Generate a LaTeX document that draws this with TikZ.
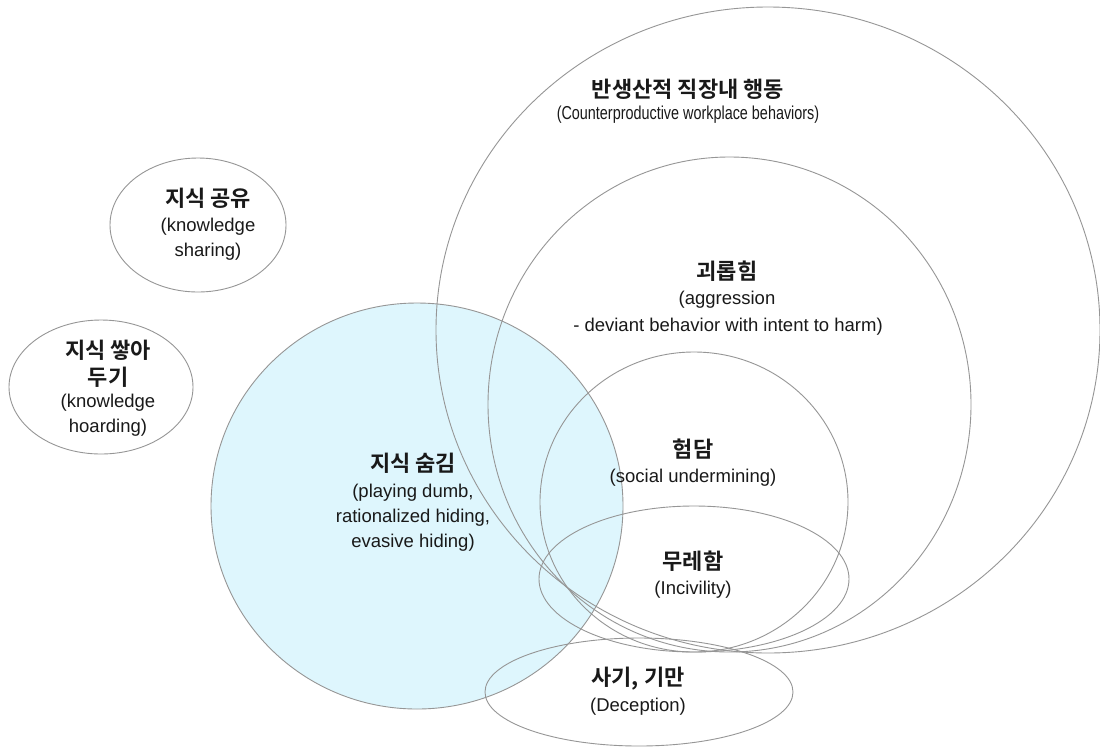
\documentclass[tikz,border=0pt]{standalone}
\usepackage{fontspec}
\setmainfont{Liberation Sans}
\newfontfamily\krfont{Noto Sans CJK KR}[BoldFont={Noto Sans CJK KR Bold}]
\newfontfamily\narrowfont{Liberation Sans}[FakeStretch=0.77]
\definecolor{linegray}{RGB}{150,150,150}
\definecolor{hidefill}{RGB}{222,246,253}
\definecolor{ink}{RGB}{25,25,25}
\tikzset{
  ring/.style={draw=linegray, line width=0.9pt},
  kr/.style={font=\krfont\bfseries\fontsize{22}{26}\selectfont, text=ink, inner sep=0pt},
  en/.style={font=\fontsize{18.5}{22}\selectfont, text=ink, inner sep=0pt},
  ennarrow/.style={font=\narrowfont\fontsize{18.7}{22}\selectfont, text=ink, inner sep=0pt}
}
\begin{document}
\begin{tikzpicture}[x=1pt, y=-1pt]
\useasboundingbox (0,0) rectangle (1100,748);
\clip (0,0) rectangle (1100,748);
\fill[white] (0,0) rectangle (1100,748);

% knowledge hiding area (filled first so the other outlines stay visible)
\fill[hidefill] (417,506) ellipse [x radius=206, y radius=203];

% outlines
\path[ring] (417,506) ellipse [x radius=206, y radius=203];
\path[ring] (768,330) ellipse [x radius=332, y radius=323];
\path[ring] (729.5,404.5) ellipse [x radius=241.5, y radius=247.5];
\path[ring] (694,502) ellipse [x radius=154, y radius=150];
\path[ring] (694,579) ellipse [x radius=155, y radius=73];
\path[ring] (639,692) ellipse [x radius=154, y radius=54];
\path[ring] (198,225) ellipse [x radius=88, y radius=67];
\path[ring] (101,387) ellipse [x radius=92, y radius=67];

% counterproductive workplace behaviours
\node[kr] (cwbK) at (688,89) {반생산적 직장내 행동};
\node[ennarrow] (cwbE) at (688,115) {(Counterproductive workplace behaviors)};

% aggression
\node[kr] (aggK) at (727,271) {괴롭힘};
\node[en] (aggE1) at (727,300) {(aggression};
\node[en] (aggE2) at (728,327) {- deviant behavior with intent to harm)};

% social undermining
\node[kr] (undK) at (693,449) {험담};
\node[en] (undE) at (693,478) {(social undermining)};

% incivility
\node[kr] (incK) at (693,561) {무레함};
\node[en] (incE) at (693,590) {(Incivility)};

% deception
\node[kr] (decK) at (638,679) {사기, 기만};
\node[en] (decE) at (638,707) {(Deception)};

% knowledge hiding
\node[kr] (hidK) at (413,463) {지식 숨김};
\node[en] (hidE1) at (413,493) {(playing dumb,};
\node[en] (hidE2) at (413,518) {rationalized hiding,};
\node[en] (hidE3) at (413,543) {evasive hiding)};

% knowledge sharing
\node[kr] (shaK) at (208,198) {지식 공유};
\node[en] (shaE1) at (208,227) {(knowledge};
\node[en] (shaE2) at (208,252) {sharing)};

% knowledge hoarding
\node[kr] (hoaK1) at (108,350) {지식 쌓아};
\node[kr] (hoaK2) at (108,377) {두기};
\node[en] (hoaE1) at (108,403) {(knowledge};
\node[en] (hoaE2) at (108,428) {hoarding)};
\end{tikzpicture}
\end{document}
